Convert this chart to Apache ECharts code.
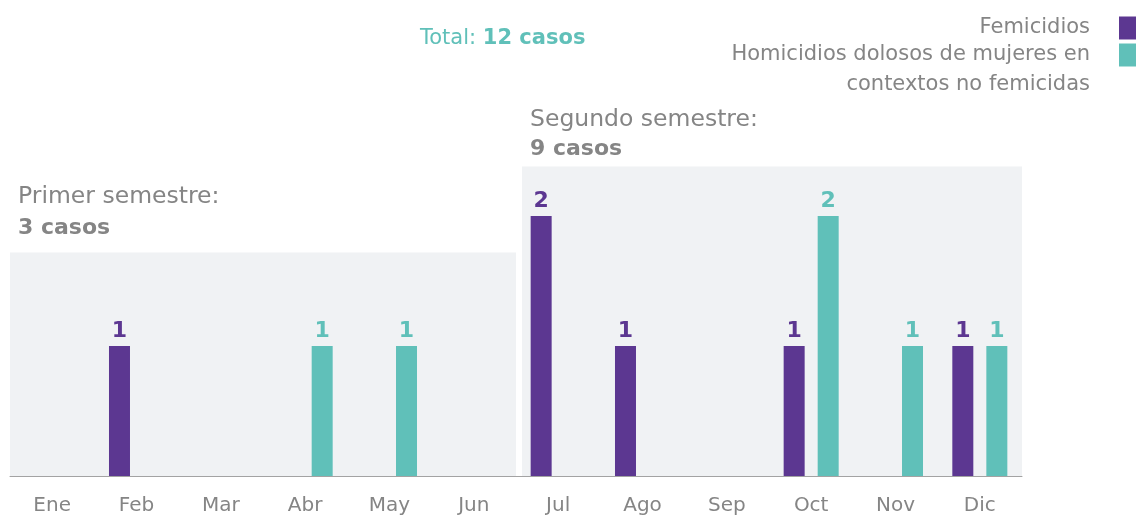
<!DOCTYPE html>
<html>
<head>
<meta charset="utf-8">
<script src="https://cdn.jsdelivr.net/npm/echarts@6/dist/echarts.min.js"></script>
<style>
  html, body { margin: 0; padding: 0; background: #fff; }
  #main { width: 1136px; height: 516px; }
</style>
</head>
<body>
<div id="main"></div>
<script>
// datos
const months = ['Ene', 'Feb', 'Mar', 'Abr', 'May', 'Jun', 'Jul', 'Ago', 'Sep', 'Oct', 'Nov', 'Dic'];
const femicidios = [0, 1, 0, 0, 0, 0, 2, 1, 0, 1, 0, 1];
const homicidios = [0, 0, 0, 1, 1, 0, 0, 0, 0, 2, 1, 1];
const seriesNames = ['Femicidios', 'Homicidios dolosos de mujeres en contextos no femicidas'];
const semesters = ['Primer semestre:', 'Segundo semestre:'];
const semesterCases = [3, 9];

const purple = '#5c3791';
const teal = '#60c0b9';
const grey = '#858585';
const font = 'DejaVu Sans';

const total = femicidios.concat(homicidios).reduce((a, b) => a + b, 0);

// fondo gris de cada semestre: [mes inicio, mes fin, alto]
const boxes = [[0, 5, 1.72], [6, 11, 2.38]];
const textOffsets = [[56, 24], [47, 17]];

const chart = echarts.init(document.getElementById('main'));

const valueLabel = color => ({
  show: true,
  position: 'top',
  distance: 4,
  color: color,
  fontFamily: font,
  fontWeight: 'bold',
  fontSize: 22,
  formatter: p => (p.value ? p.value : '')
});

const option = {
  animation: false,
  title: {
    text: '{a|Total: }{b|' + total + ' casos}',
    left: 415,
    top: 23,
    textStyle: {
      rich: {
        a: { color: teal, fontSize: 21, fontFamily: font, fontWeight: 'normal' },
        b: { color: teal, fontSize: 21, fontFamily: font, fontWeight: 'bold' }
      }
    }
  },
  legend: {
    orient: 'vertical',
    right: -11,
    top: 5,
    align: 'right',
    itemWidth: 23,
    itemHeight: 23,
    itemGap: -33,
    selectedMode: false,
    icon: 'rect',
    // linea vacia arriba para que el cuadro quede a la altura de la primera linea
    formatter: name => name === seriesNames[1]
      ? '\nHomicidios dolosos de mujeres en\ncontextos no femicidas' : name,
    textStyle: { color: grey, fontSize: 21, fontFamily: font, lineHeight: 30, padding: [0, 24, 0, 0] },
    data: seriesNames
  },
  grid: { left: 10, right: 114, top: 86, bottom: 40 },
  xAxis: {
    type: 'category',
    data: months,
    axisLine: { lineStyle: { color: '#a3a3a3', width: 1 } },
    axisTick: { inside: true, length: 6, lineStyle: { color: '#a3a3a3' } },
    axisLabel: { color: grey, fontSize: 20, fontFamily: font, margin: 20 }
  },
  yAxis: {
    type: 'value',
    min: 0,
    max: 3,
    show: false,
    splitLine: { show: false }
  },
  series: [
    {
      type: 'custom',
      z: 0,
      silent: true,
      encode: { x: [0, 1], y: 2 },
      data: boxes,
      renderItem: function (params, api) {
        const i = params.dataIndex;
        const start = api.coord([api.value(0), 0]);
        const end = api.coord([api.value(1), api.value(2)]);
        const band = api.size([1, 0])[0];
        const inset = i === 0 ? 0 : 6;
        const x0 = start[0] - band / 2 + inset;
        const x1 = end[0] + band / 2;
        const top = end[1];
        return {
          type: 'group',
          children: [
            {
              type: 'rect',
              shape: { x: x0, y: top, width: x1 - x0, height: start[1] - top },
              style: { fill: '#f0f2f4' }
            },
            {
              type: 'text',
              x: x0 + 8,
              y: top - textOffsets[i][0],
              style: { text: semesters[i], fill: grey, font: '23.5px "DejaVu Sans"', verticalAlign: 'middle' }
            },
            {
              type: 'text',
              x: x0 + 8,
              y: top - textOffsets[i][1],
              style: { text: semesterCases[i] + ' casos', fill: grey, font: 'bold 22px "DejaVu Sans"', verticalAlign: 'middle' }
            }
          ]
        };
      }
    },
    {
      name: seriesNames[0],
      type: 'bar',
      barWidth: 21,
      barGap: '62%',
      itemStyle: { color: purple },
      label: valueLabel(purple),
      data: femicidios
    },
    {
      name: seriesNames[1],
      type: 'bar',
      barWidth: 21,
      barGap: '62%',
      itemStyle: { color: teal },
      label: valueLabel(teal),
      data: homicidios
    }
  ]
};

chart.setOption(option);
</script>
</body>
</html>
